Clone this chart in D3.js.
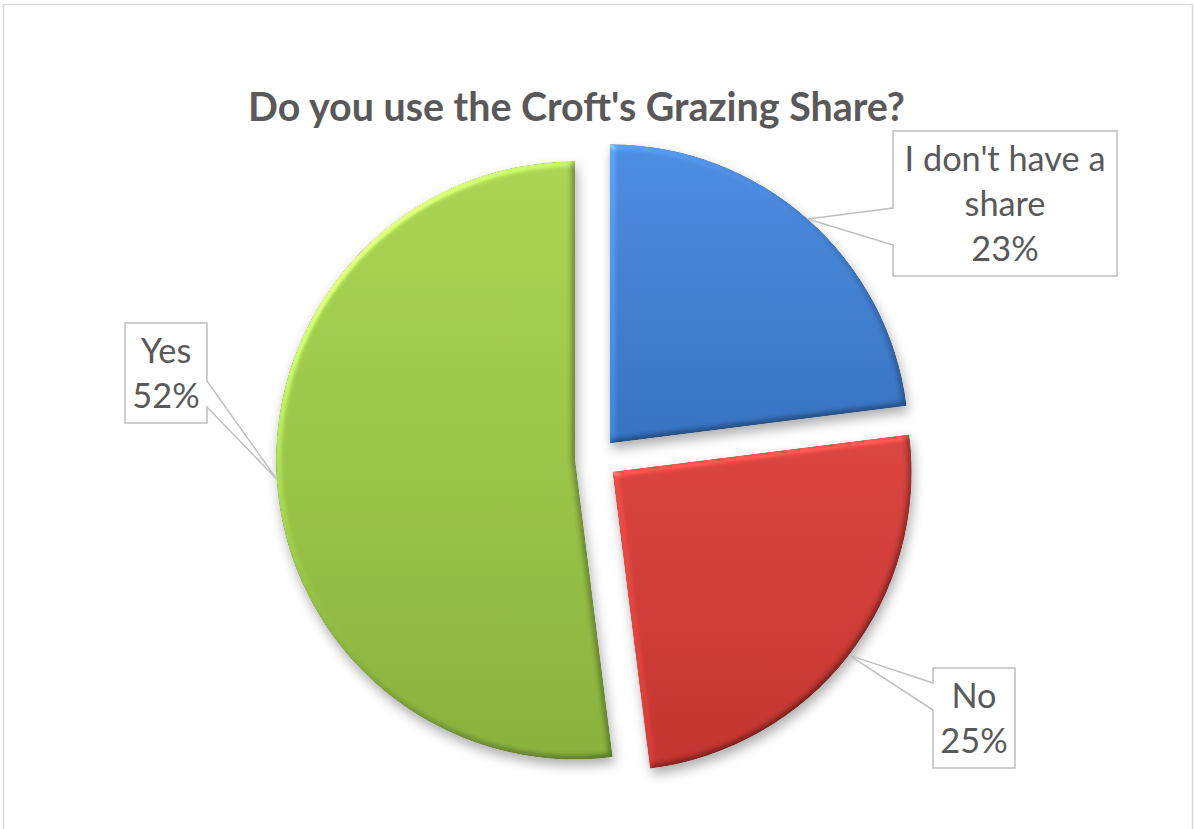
<!DOCTYPE html>
<html>
<head>
<meta charset="utf-8">
<script src="https://cdn.jsdelivr.net/npm/d3@7"></script>
<style>
  html, body { margin: 0; padding: 0; background: #ffffff; }
  svg { display: block; }
</style>
</head>
<body>
<svg id="chart" width="1195" height="829"></svg>
<script>
// Survey answers and their shares (percent)
const categories = ["I don't have a share", "No", "Yes"];
const values = [23, 25, 52];
const labelLines = [["I don't have a", "share"], ["No"], ["Yes"]];
const percentLabels = ["23%", "25%", "52%"];
const titleText = "Do you use the Croft's Grazing Share?";

// Slice colours: light (top) / mid / dark (bottom) gradient stops
const sliceColors = [
  ["#4d8de0", "#3672c0", "#2b5ea2"],
  ["#e65d57", "#d8433e", "#c2342f"],
  ["#a9d453", "#99c548", "#88b13d"]
];

// Layout
const W = 1195, H = 829;
const center = { x: 596, y: 459 };
const radius = 299;
const explode = 21;
const font = "Lato, 'Open Sans', 'Noto Sans', sans-serif";
const textColor = "#595959";
const boxStroke = "#bfbfbf";

// Callout boxes: rect bounds, which side the pointer leaves from, and pointer span
const callouts = [
  { x0: 893, y0: 131, x1: 1117, y1: 276, side: "left",  p0: 208, p1: 245 },
  { x0: 933, y0: 668, x1: 1015, y1: 768, side: "left",  p0: 683, p1: 710 },
  { x0: 125, y0: 323, x1: 207,  y1: 423, side: "right", p0: 381, p1: 407 }
];

const svg = d3.select("#chart");

// Outer chart frame
svg.append("rect")
  .attr("x", 3.5).attr("y", 4.5)
  .attr("width", 1189).attr("height", 840)
  .attr("fill", "#ffffff")
  .attr("stroke", "#d9d9d9").attr("stroke-width", 1.5);

const defs = svg.append("defs");

// Soft bevel + drop shadow
const f = defs.append("filter").attr("id", "bevel")
  .attr("x", "-10%").attr("y", "-10%").attr("width", "130%").attr("height", "130%")
  .attr("color-interpolation-filters", "sRGB");
f.append("feGaussianBlur").attr("in", "SourceAlpha").attr("stdDeviation", 3).attr("result", "bump");
const diff = f.append("feDiffuseLighting").attr("in", "bump").attr("surfaceScale", 3)
  .attr("diffuseConstant", 1).attr("lighting-color", "#ffffff").attr("result", "diff");
diff.append("feDistantLight").attr("azimuth", 225).attr("elevation", 38);
// flat areas keep their colour (0.62 * 0.616 + 0.62 ≈ 1)
f.append("feComposite").attr("in", "SourceGraphic").attr("in2", "diff")
  .attr("operator", "arithmetic").attr("k1", 0.62).attr("k2", 0.62).attr("k3", 0).attr("k4", 0)
  .attr("result", "shaded");
const spec = f.append("feSpecularLighting").attr("in", "bump").attr("surfaceScale", 3)
  .attr("specularConstant", 0.5).attr("specularExponent", 30)
  .attr("lighting-color", "#ffffff").attr("result", "spec");
spec.append("feDistantLight").attr("azimuth", 225).attr("elevation", 32);
f.append("feComposite").attr("in", "spec").attr("in2", "SourceAlpha").attr("operator", "in").attr("result", "specIn");
f.append("feComposite").attr("in", "shaded").attr("in2", "specIn")
  .attr("operator", "arithmetic").attr("k2", 1).attr("k3", 0.3).attr("result", "lit");
f.append("feComposite").attr("in", "lit").attr("in2", "SourceAlpha").attr("operator", "in").attr("result", "litIn");
f.append("feGaussianBlur").attr("in", "SourceAlpha").attr("stdDeviation", 6).attr("result", "sb");
f.append("feOffset").attr("in", "sb").attr("dx", 2).attr("dy", 6).attr("result", "so");
f.append("feFlood").attr("flood-color", "#000").attr("flood-opacity", 0.32).attr("result", "fl");
f.append("feComposite").attr("in", "fl").attr("in2", "so").attr("operator", "in").attr("result", "shadow");
const merge = f.append("feMerge");
merge.append("feMergeNode").attr("in", "shadow");
merge.append("feMergeNode").attr("in", "litIn");

// Vertical gradients for each slice (in the slice group's coordinates)
sliceColors.forEach((c, i) => {
  const g = defs.append("linearGradient").attr("id", "grad" + i)
    .attr("gradientUnits", "userSpaceOnUse")
    .attr("x1", 0).attr("y1", -radius)
    .attr("x2", 0).attr("y2", radius);
  g.append("stop").attr("offset", 0).attr("stop-color", c[0]);
  g.append("stop").attr("offset", 0.5).attr("stop-color", c[1]);
  g.append("stop").attr("offset", 1).attr("stop-color", c[2]);
});

// Pie: starts at 12 o'clock, clockwise, in data order
const pie = d3.pie().sort(null).value(d => d);
const arcs = pie(values);
const arc = d3.arc().innerRadius(0).outerRadius(radius);

const offsetOf = d => {
  const mid = (d.startAngle + d.endAngle) / 2;
  return [explode * Math.sin(mid), -explode * Math.cos(mid)];
};

const slices = svg.append("g").attr("transform", `translate(${center.x},${center.y})`);
slices.selectAll("path.slice")
  .data(arcs)
  .join("path")
  .attr("class", "slice")
  .attr("transform", d => { const o = offsetOf(d); return `translate(${o[0]},${o[1]})`; })
  .attr("d", arc)
  .attr("fill", (d, i) => `url(#grad${i})`)
  .attr("filter", "url(#bevel)");

// Title
const title = svg.append("text")
  .attr("x", 576.5).attr("y", 121)
  .attr("text-anchor", "middle")
  .attr("font-family", font).attr("font-weight", "bold")
  .attr("font-size", 36)
  .attr("fill", textColor)
  .text(titleText);
{
  const w = title.node().getComputedTextLength();
  title.attr("font-size", 36 * 657 / w);
}

// Data label font size fitted on the widest line
const probe = svg.append("text").attr("font-family", font).attr("font-size", 36).text(labelLines[0][0]);
const labelSize = 36 * 201 / probe.node().getComputedTextLength();
probe.remove();

// Callouts with pointers to the outer edge of each slice
arcs.forEach((d, i) => {
  const b = callouts[i];
  const mid = (d.startAngle + d.endAngle) / 2;
  const tip = [center.x + (radius + explode) * Math.sin(mid),
               center.y - (radius + explode) * Math.cos(mid)];
  const p = d3.path();
  if (b.side === "left") {
    p.moveTo(b.x0, b.y0); p.lineTo(b.x1, b.y0); p.lineTo(b.x1, b.y1); p.lineTo(b.x0, b.y1);
    p.lineTo(b.x0, b.p1); p.lineTo(tip[0], tip[1]); p.lineTo(b.x0, b.p0); p.closePath();
  } else {
    p.moveTo(b.x0, b.y0); p.lineTo(b.x1, b.y0); p.lineTo(b.x1, b.p0);
    p.lineTo(tip[0], tip[1]); p.lineTo(b.x1, b.p1); p.lineTo(b.x1, b.y1); p.lineTo(b.x0, b.y1);
    p.closePath();
  }
  svg.append("path").attr("d", p.toString())
    .attr("fill", "#ffffff").attr("stroke", boxStroke).attr("stroke-width", 1.5)
    .attr("stroke-linejoin", "miter");

  const lines = labelLines[i].concat([percentLabels[i]]);
  const t = svg.append("text")
    .attr("text-anchor", "middle")
    .attr("font-family", font).attr("font-size", labelSize)
    .attr("fill", textColor);
  lines.forEach((ln, k) => {
    t.append("tspan").attr("x", (b.x0 + b.x1) / 2).attr("y", b.y0 + 40 + k * 45).text(ln);
  });
});
</script>
</body>
</html>
